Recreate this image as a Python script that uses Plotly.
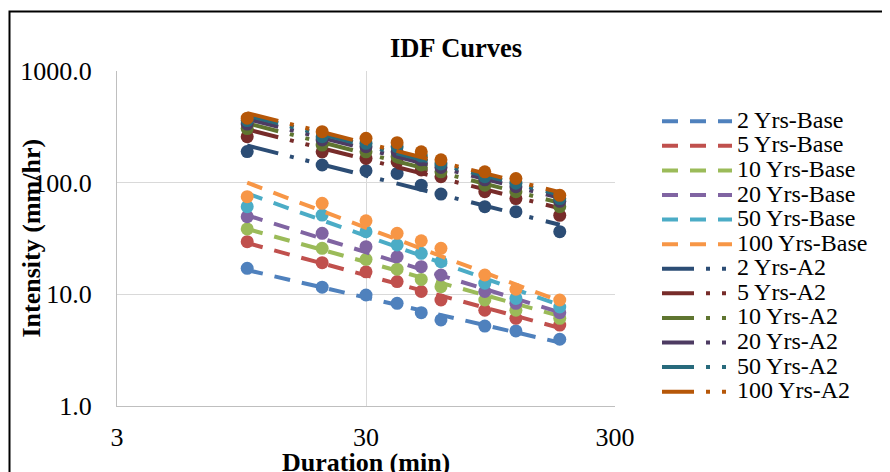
import plotly.graph_objects as go

# ---------------- data ----------------
durations = [10, 20, 30, 40, 50, 60, 90, 120, 180]

series_names = ["2 Yrs-Base", "5 Yrs-Base", "10 Yrs-Base", "20 Yrs-Base", "50 Yrs-Base", "100 Yrs-Base",
                "2 Yrs-A2", "5 Yrs-A2", "10 Yrs-A2", "20 Yrs-A2", "50 Yrs-A2", "100 Yrs-A2"]

# point values (markers), mm/hr
base_2 = [17.1, 11.6, 9.86, 8.3, 6.85, 5.9, 5.2, 4.7, 3.96]
base_5 = [29.6, 19.2, 15.9, 13.0, 10.6, 8.9, 7.2, 6.1, 5.3]
base_10 = [38.5, 25.8, 20.6, 16.8, 13.6, 11.7, 8.9, 7.2, 6.1]
base_20 = [49.6, 35.2, 26.7, 21.7, 17.7, 14.9, 10.6, 8.3, 6.85]
base_50 = [61.0, 51.3, 36.4, 27.7, 23.3, 19.6, 12.6, 9.2, 7.7]
base_100 = [74.9, 65.3, 45.5, 35.2, 30.2, 25.8, 14.9, 11.1, 8.9]
a2_2 = [190, 144, 128, 121, 95, 79, 61, 55, 36.4]
a2_5 = [258, 189, 165, 154, 130, 113, 83, 72, 51]
a2_10 = [305, 217, 189, 171, 144, 125, 95, 83, 61]
a2_20 = [335, 241, 210, 189, 160, 137, 106, 92, 68]
a2_50 = [360, 258, 225, 210, 173, 147, 113, 99, 72]
a2_100 = [378, 286, 250, 228, 189, 160, 125, 109, 77]

# curve values (lines), mm/hr
base_2_curve = [16.5, 11.5, 9.3, 8.0, 7.2, 6.5, 5.3, 4.55, 3.7]
base_5_curve = [28.8, 18.9, 14.8, 12.4, 10.9, 9.7, 7.6, 6.4, 5.0]
base_10_curve = [38.5, 25.1, 19.5, 16.3, 14.2, 12.7, 9.9, 8.3, 6.4]
base_20_curve = [51.0, 31.6, 23.8, 19.5, 16.7, 14.8, 11.1, 9.1, 6.9]
base_50_curve = [80.0, 46.0, 33.3, 26.5, 22.2, 19.2, 13.9, 11.0, 8.0]
base_100_curve = [100.0, 55.7, 39.5, 31.0, 25.7, 22.0, 15.6, 12.3, 8.7]
a2_2_curve = [215, 145, 116, 98, 87, 78, 62, 53, 42]
a2_5_curve = [300, 203, 161, 137, 121, 109, 87, 74, 59]
a2_10_curve = [340, 230, 183, 155, 137, 124, 98, 84, 66]
a2_20_curve = [372, 251, 200, 170, 150, 135, 108, 91, 73]
a2_50_curve = [400, 270, 215, 183, 161, 145, 116, 98, 78]
a2_100_curve = [420, 284, 226, 192, 169, 153, 121, 103, 82]

x_tick_vals = [3, 30, 300]
x_tick_text = ["3", "30", "300"]
y_tick_vals = [1, 10, 100, 1000]
y_tick_text = ["1.0", "10.0", "100.0", "1000.0"]

# ---------------- styling ----------------
colors = ["#4F81BD", "#C0504D", "#9BBB59", "#8064A2", "#4BACC6", "#F79646",
          "#2C4D75", "#772C2A", "#5F7530", "#4D3B62", "#276A7C", "#B65708"]
points = [base_2, base_5, base_10, base_20, base_50, base_100,
          a2_2, a2_5, a2_10, a2_20, a2_50, a2_100]
curves = [base_2_curve, base_5_curve, base_10_curve, base_20_curve, base_50_curve, base_100_curve,
          a2_2_curve, a2_5_curve, a2_10_curve, a2_20_curve, a2_50_curve, a2_100_curve]

FONT = "Liberation Serif"
BASE_DASH = "16px,12px"
A2_DASH = "32px,12px,4px,12px,4px,13px"

fig = go.Figure()
for i, name in enumerate(series_names):
    dash = BASE_DASH if i < 6 else A2_DASH
    fig.add_trace(go.Scatter(
        x=durations, y=curves[i], mode="lines",
        name='<span style="font-size:24px">' + name + '</span>',
        line=dict(color=colors[i], width=4, dash=dash),
        hoverinfo="skip"))
    fig.add_trace(go.Scatter(
        x=durations, y=points[i], mode="markers", showlegend=False,
        marker=dict(color=colors[i], size=13, line=dict(width=0)),
        name=name))

# page has an 8px body margin: compensate
OFF = 8
PAGE_W, PAGE_H = 890, 472
W, H = PAGE_W - OFF, PAGE_H - OFF
PL, PR, PT, PB = 117, 615, 71, 406          # plot area in page pixels
L, R, T, B = PL - OFF, PAGE_W - PR, PT - OFF, PAGE_H - PB
pw, ph = PR - PL, PB - PT


def px(xp):
    return (xp - PL) / pw


def py(yp):
    return (PB - yp) / ph


fig.update_layout(
    width=W, height=H,
    margin=dict(l=L, r=R, t=T, b=B, autoexpand=False),
    paper_bgcolor="white", plot_bgcolor="white",
    font=dict(family=FONT, color="black", size=26),
    title=dict(text="<b>IDF Curves</b>", x=(456 - OFF) / W, xref="container", xanchor="center",
               y=1 - (48 - OFF) / H, yref="container", yanchor="middle",
               font=dict(family=FONT, size=26.5, color="black")),
    showlegend=True,
    legend=dict(x=px(657), xanchor="left", y=py(104), yanchor="top",
                font=dict(family=FONT, size=16.6, color="black"),
                itemwidth=70, bgcolor="rgba(0,0,0,0)", borderwidth=0,
                tracegroupgap=0),
    xaxis=dict(type="log", range=[0.47712, 2.47712],
               tickvals=x_tick_vals, ticktext=x_tick_text,
               showgrid=True, gridcolor="#D9D9D9", gridwidth=1,
               showline=True, linecolor="#BFBFBF", linewidth=1,
               ticks="", ticklabelstandoff=8, zeroline=False,
               tickfont=dict(family=FONT, size=26, color="black")),
    yaxis=dict(type="log", range=[0, 3],
               tickvals=y_tick_vals, ticktext=y_tick_text,
               showgrid=True, gridcolor="#D9D9D9", gridwidth=1,
               showline=True, linecolor="#BFBFBF", linewidth=1,
               ticks="", ticklabelstandoff=19, zeroline=False,
               tickfont=dict(family=FONT, size=26, color="black")),
    annotations=[
        dict(text="<b>Intensity (mm/hr)</b>", xref="paper", yref="paper", x=0, y=0.5,
             xanchor="center", yanchor="middle", xshift=-(PL - 31), textangle=-90,
             showarrow=False, font=dict(family=FONT, size=26, color="black")),
        dict(text="<b>Duration (min)</b>", xref="paper", yref="paper", x=0.5, y=0,
             xanchor="center", yanchor="middle", yshift=-(462 - PB),
             showarrow=False, font=dict(family=FONT, size=26, color="black")),
    ],
    shapes=[dict(type="rect", xref="paper", yref="paper",
                 x0=px(9.5), x1=px(886.5), y0=py(530), y1=py(11.5),
                 line=dict(color="black", width=2), fillcolor="rgba(0,0,0,0)", layer="above")],
)

fig.write_html("out.html")
